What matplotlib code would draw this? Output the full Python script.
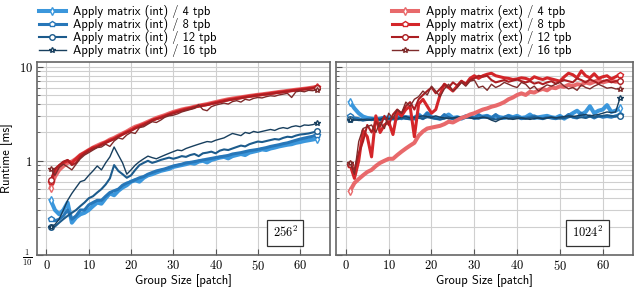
import matplotlib
matplotlib.use("Agg")
import matplotlib.pyplot as plt
from matplotlib.ticker import FixedLocator, LogLocator, NullFormatter

plt.rcParams["mathtext.fontset"] = "cm"
plt.rcParams["font.family"] = ["cmss10", "DejaVu Sans"]
plt.rcParams["axes.unicode_minus"] = False

# ── Données ───────────────────────────────────────────────────────────────────

group_size = list(range(1, 65))
tpb = [4, 8, 12, 16]

# 256^2, variante (int)
small_int_4 = [0.38, 0.30, 0.27, 0.30, 0.36, 0.22, 0.25, 0.27, 0.28, 0.30,
               0.33, 0.36, 0.35, 0.40, 0.45, 0.43, 0.48, 0.52, 0.55, 0.60,
               0.62, 0.60, 0.66, 0.70, 0.72, 0.75, 0.78, 0.80, 0.82, 0.86,
               0.88, 0.90, 0.92, 0.95, 0.93, 0.98, 1.00, 0.96, 1.02, 1.05,
               1.08, 1.10, 1.06, 1.12, 1.15, 1.18, 1.15, 1.22, 1.25, 1.28,
               1.32, 1.30, 1.35, 1.38, 1.42, 1.45, 1.48, 1.50, 1.55, 1.58,
               1.62, 1.65, 1.68, 1.72]
small_int_8 = [0.24, 0.23, 0.24, 0.26, 0.30, 0.24, 0.26, 0.30, 0.30, 0.34,
               0.36, 0.38, 0.38, 0.42, 0.46, 0.48, 0.50, 0.55, 0.58, 0.60,
               0.63, 0.66, 0.68, 0.72, 0.75, 0.78, 0.80, 0.82, 0.85, 0.88,
               0.90, 0.92, 0.95, 0.96, 0.98, 1.00, 1.02, 1.04, 1.06, 1.08,
               1.10, 1.12, 1.14, 1.18, 1.20, 1.22, 1.25, 1.28, 1.30, 1.32,
               1.35, 1.38, 1.42, 1.45, 1.48, 1.52, 1.55, 1.60, 1.65, 1.70,
               1.74, 1.78, 1.82, 1.90]
small_int_12 = [0.20, 0.20, 0.22, 0.24, 0.26, 0.28, 0.30, 0.33, 0.36, 0.40,
                0.42, 0.46, 0.50, 0.56, 0.65, 0.90, 0.78, 0.72, 0.66, 0.70,
                0.80, 0.90, 0.95, 1.00, 0.95, 0.98, 1.02, 1.05, 1.08, 1.05,
                1.08, 1.12, 1.10, 1.15, 1.18, 1.12, 1.20, 1.22, 1.25, 1.20,
                1.28, 1.32, 1.30, 1.35, 1.40, 1.45, 1.42, 1.50, 1.55, 1.60,
                1.58, 1.62, 1.66, 1.70, 1.68, 1.75, 1.80, 1.78, 1.85, 1.90,
                1.92, 1.95, 2.00, 2.05]
small_int_16 = [0.20, 0.21, 0.24, 0.30, 0.38, 0.45, 0.52, 0.60, 0.62, 0.70,
                0.78, 0.88, 0.80, 0.95, 1.10, 1.40, 1.15, 0.95, 0.72, 0.80,
                0.90, 0.98, 1.05, 1.12, 1.08, 1.05, 1.10, 1.15, 1.20, 1.25,
                1.30, 1.28, 1.35, 1.40, 1.45, 1.50, 1.55, 1.60, 1.58, 1.65,
                1.70, 1.75, 1.85, 1.95, 1.90, 1.85, 2.00, 1.95, 2.05, 2.00,
                2.05, 2.10, 2.15, 2.10, 2.20, 2.25, 2.20, 2.30, 2.35, 2.30,
                2.40, 2.38, 2.42, 2.50]

# 256^2, variante (ext)
small_ext_4 = [0.52, 0.68, 0.80, 0.88, 0.95, 0.98, 1.05, 1.15, 1.22, 1.30,
               1.38, 1.45, 1.52, 1.58, 1.68, 1.75, 1.85, 1.95, 2.05, 2.18,
               2.30, 2.38, 2.48, 2.60, 2.72, 2.85, 2.95, 3.05, 3.18, 3.30,
               3.40, 3.50, 3.58, 3.65, 3.75, 3.85, 3.92, 4.00, 4.10, 4.20,
               4.30, 4.40, 4.50, 4.58, 4.65, 4.72, 4.80, 4.88, 4.95, 5.02,
               5.08, 5.15, 5.22, 5.30, 5.38, 5.45, 5.52, 5.60, 5.68, 5.75,
               5.82, 5.90, 6.00, 6.10]
small_ext_8 = [0.60, 0.78, 0.88, 0.95, 1.00, 0.95, 1.05, 1.15, 1.22, 1.30,
               1.38, 1.42, 1.50, 1.58, 1.65, 1.72, 1.82, 1.92, 2.02, 2.12,
               2.25, 2.35, 2.45, 2.55, 2.70, 2.80, 2.90, 3.00, 3.12, 3.25,
               3.35, 3.45, 3.55, 3.62, 3.72, 3.82, 3.90, 3.95, 4.05, 4.15,
               4.25, 4.35, 4.45, 4.52, 4.60, 4.70, 4.78, 4.85, 4.92, 5.00,
               5.05, 5.12, 5.20, 5.28, 5.35, 5.42, 5.50, 5.58, 5.65, 5.72,
               5.80, 5.88, 5.95, 6.05]
small_ext_12 = [0.62, 0.82, 0.90, 0.98, 1.02, 0.90, 0.95, 1.10, 1.20, 1.28,
                1.35, 1.40, 1.48, 1.55, 1.62, 1.70, 1.80, 1.90, 2.00, 2.08,
                2.20, 2.30, 2.40, 2.55, 2.68, 2.78, 2.85, 2.98, 3.10, 3.20,
                3.30, 3.40, 3.50, 3.60, 3.70, 3.78, 3.85, 3.92, 4.02, 4.10,
                4.20, 4.30, 4.40, 4.48, 4.55, 4.62, 4.72, 4.80, 4.88, 4.95,
                5.02, 5.08, 5.15, 5.22, 5.30, 5.38, 5.45, 5.52, 5.60, 5.68,
                5.75, 5.82, 5.90, 5.95]
small_ext_16 = [0.82, 0.70, 0.85, 0.92, 0.86, 0.80, 0.92, 1.05, 1.15, 1.22,
                1.30, 1.38, 1.40, 1.50, 1.42, 1.62, 1.75, 1.70, 1.88, 2.00,
                1.95, 2.25, 2.30, 2.45, 2.60, 2.55, 2.70, 2.90, 3.00, 3.05,
                3.15, 3.30, 3.40, 3.50, 3.60, 3.95, 3.50, 3.40, 3.75, 3.90,
                4.00, 4.10, 4.00, 4.25, 4.35, 4.20, 4.50, 4.40, 4.60, 4.70,
                4.65, 4.80, 4.90, 4.85, 5.00, 5.10, 5.20, 4.70, 5.40, 5.50,
                5.40, 5.60, 5.55, 5.70]

# 1024^2, variante (int)
large_int_4 = [4.2, 3.6, 3.2, 2.95, 2.85, 2.8, 2.75, 2.8, 2.85, 2.9,
               2.8, 2.85, 3.0, 2.85, 2.9, 2.8, 3.1, 2.85, 3.2, 2.9,
               2.85, 2.8, 2.9, 3.1, 2.85, 2.9, 2.8, 2.95, 3.0, 2.85,
               2.9, 2.95, 3.0, 2.85, 3.0, 2.9, 2.85, 3.0, 2.9, 3.0,
               2.85, 2.9, 3.1, 2.85, 2.9, 2.95, 3.0, 2.9, 2.85, 3.0,
               2.8, 3.0, 3.2, 3.4, 3.1, 3.3, 3.8, 3.2, 3.4, 3.5,
               3.9, 3.3, 3.4, 3.6]
large_int_8 = [3.0, 2.85, 2.8, 2.7, 2.75, 2.8, 2.75, 2.8, 2.9, 2.8,
               2.85, 2.9, 2.8, 2.95, 2.85, 2.9, 3.05, 2.8, 3.2, 2.9,
               2.85, 2.8, 3.1, 2.85, 2.8, 2.9, 2.85, 3.0, 2.9, 2.85,
               3.1, 2.9, 3.0, 2.85, 3.1, 2.8, 2.9, 3.0, 2.85, 2.9,
               2.8, 2.85, 2.9, 3.0, 2.85, 2.8, 2.9, 2.85, 2.8, 2.9,
               2.85, 3.1, 2.9, 2.85, 3.2, 2.9, 3.0, 2.85, 3.0, 2.9,
               2.95, 2.9, 3.0, 3.05]
large_int_12 = [2.75, 2.75, 2.7, 2.7, 2.75, 2.7, 2.75, 2.7, 2.8, 2.75,
                2.8, 2.75, 2.85, 2.8, 2.75, 2.8, 2.85, 2.8, 2.9, 2.85,
                2.8, 2.75, 2.8, 2.9, 2.8, 2.85, 2.8, 2.85, 2.9, 2.85,
                2.8, 2.9, 2.85, 2.8, 2.75, 2.8, 2.85, 2.8, 2.85, 2.9,
                2.85, 2.8, 2.85, 2.9, 2.85, 2.8, 2.85, 2.9, 2.85, 2.8,
                2.85, 2.9, 2.95, 2.85, 2.9, 2.85, 2.95, 2.9, 2.95, 3.0,
                3.05, 3.0, 2.95, 3.0]
large_int_16 = [2.7, 2.7, 2.72, 2.75, 2.7, 2.75, 2.8, 2.75, 2.9, 2.8,
                2.85, 2.8, 2.9, 2.95, 2.85, 2.9, 2.95, 3.0, 2.95, 2.9,
                3.0, 2.9, 2.85, 2.8, 2.85, 2.9, 2.95, 2.9, 2.85, 2.8,
                2.85, 2.9, 2.85, 2.7, 2.6, 2.75, 2.85, 2.8, 2.75, 2.8,
                2.85, 2.8, 2.75, 2.8, 2.85, 2.8, 2.85, 2.9, 2.85, 2.9,
                2.95, 3.0, 2.95, 3.0, 3.05, 3.1, 3.0, 3.05, 3.1, 3.2,
                3.3, 3.25, 3.3, 4.6]

# 1024^2, variante (ext)
large_ext_4 = [0.48, 0.58, 0.64, 0.70, 0.76, 0.80, 0.88, 0.95, 1.0, 1.05,
               1.05, 1.15, 1.25, 1.35, 1.45, 1.55, 1.85, 2.05, 2.2, 2.25,
               2.3, 2.35, 2.45, 2.6, 2.55, 2.7, 2.85, 2.95, 3.1, 3.2,
               3.35, 3.5, 3.6, 3.75, 3.85, 4.0, 4.2, 4.5, 4.7, 5.0,
               5.2, 5.0, 5.4, 5.3, 5.6, 5.8, 5.6, 6.0, 5.9, 6.2,
               6.1, 6.4, 6.2, 6.5, 6.4, 6.8, 6.6, 6.9, 7.2, 6.8,
               7.0, 7.1, 6.9, 7.0]
large_ext_8 = [0.9, 0.65, 1.0, 2.1, 1.8, 1.1, 3.0, 2.0, 2.4, 2.6,
               1.9, 3.3, 3.0, 3.5, 3.8, 1.8, 4.0, 4.5, 3.8, 3.2,
               3.5, 5.0, 6.5, 6.0, 5.5, 6.2, 7.0, 6.5, 7.5, 8.0,
               7.5, 8.0, 8.3, 8.5, 8.0, 7.8, 7.6, 7.5, 7.3, 7.4,
               7.6, 7.5, 7.2, 7.8, 7.5, 7.3, 7.6, 7.4, 7.2, 7.0,
               7.8, 8.5, 8.2, 7.6, 9.0, 8.0, 7.6, 8.4, 7.5, 7.8,
               8.0, 7.4, 7.8, 8.2]
large_ext_12 = [0.92, 0.8, 1.2, 1.6, 2.4, 2.0, 2.6, 2.3, 3.0, 2.4,
                3.1, 3.5, 3.2, 3.8, 4.2, 3.5, 4.5, 5.0, 5.5, 6.0,
                5.2, 5.8, 6.5, 6.0, 6.8, 6.3, 7.0, 6.6, 7.2, 7.5,
                8.0, 7.8, 8.0, 7.2, 6.8, 7.0, 7.2, 6.9, 7.1, 7.3,
                7.0, 6.8, 7.0, 6.6, 6.8, 6.5, 6.8, 7.0, 6.6, 6.9,
                7.2, 7.0, 6.8, 7.5, 7.2, 6.8, 7.3, 7.0, 6.6, 7.0,
                7.2, 6.8, 7.0, 7.0]
large_ext_16 = [0.95, 0.72, 1.6, 2.2, 2.3, 2.4, 2.0, 2.6, 2.2, 3.2,
                2.8, 3.5, 3.2, 4.2, 3.8, 4.5, 4.8, 5.5, 5.0, 6.2,
                5.5, 4.8, 5.8, 6.5, 5.5, 6.0, 6.8, 6.2, 7.0, 7.2,
                6.0, 6.2, 5.6, 6.5, 6.0, 6.3, 6.8, 6.5, 6.2, 6.0,
                6.8, 6.5, 5.8, 6.2, 5.5, 6.0, 6.4, 6.2, 6.5, 6.8,
                6.2, 5.8, 6.0, 5.6, 6.4, 6.0, 5.8, 6.2, 6.5, 6.2,
                5.9, 6.0, 5.8, 5.8]

panels = [
    ("256", [small_int_4, small_int_8, small_int_12, small_int_16],
            [small_ext_4, small_ext_8, small_ext_12, small_ext_16]),
    ("1024", [large_int_4, large_int_8, large_int_12, large_int_16],
             [large_ext_4, large_ext_8, large_ext_12, large_ext_16]),
]

# ── Style ─────────────────────────────────────────────────────────────────────

int_colors = ["#3b97dc", "#2777b9", "#1c5b8c", "#183f5e"]
ext_colors = ["#e8696b", "#d4262a", "#ab1e22", "#7e2b2b"]
widths     = [2.9, 2.2, 1.5, 1.0]
markers    = ["d", "p", "o", "*"]

fig = plt.figure(figsize=(6.34, 2.91), dpi=100)
axes = [
    fig.add_axes([0.058, 0.124, 0.462, 0.663]),
    fig.add_axes([0.530, 0.124, 0.468, 0.663]),
]

for i, (ax, (size, int_series, ext_series)) in enumerate(zip(axes, panels)):
    for kind, series, colors in [("int", int_series, int_colors),
                                 ("ext", ext_series, ext_colors)]:
        for vals, n, c, lw, m in zip(series, tpb, colors, widths, markers):
            ax.plot(group_size, vals, color=c, lw=lw, marker=m, markersize=4,
                    markerfacecolor="white", markeredgecolor=c, markeredgewidth=1,
                    markevery=[0, len(vals) - 1],
                    label=f"Apply matrix ({kind}) / {n} tpb")

    ax.set_yscale("log")
    ax.set_ylim(0.1, 11.2)
    ax.set_xlim(-2.3, 67)
    ax.xaxis.set_major_locator(FixedLocator([0, 10, 20, 30, 40, 50, 60]))
    ax.set_xticklabels([f"${v}$" for v in [0, 10, 20, 30, 40, 50, 60]])
    ax.yaxis.set_major_locator(FixedLocator([0.1, 1, 10]))
    ax.yaxis.set_minor_locator(LogLocator(base=10, subs=range(2, 10)))
    ax.yaxis.set_minor_formatter(NullFormatter())
    if i == 0:
        ax.set_yticklabels([r"$\frac{1}{10}$", r"$1$", r"$10$"])
        ax.set_ylabel("Runtime [ms]", fontsize=9)
        ax.yaxis.set_label_coords(-0.08, 0.5)
    else:
        ax.set_yticklabels([])
    ax.tick_params(which="both", direction="in", labelsize=9, color="#555555")
    ax.tick_params(which="major", length=4, pad=3)
    ax.tick_params(which="minor", length=2.5)
    ax.grid(True, which="major", color="#cfcfcf", lw=0.8)
    ax.grid(True, which="minor", axis="y", color="#cfcfcf", lw=0.8)
    ax.set_axisbelow(True)
    for sp in ax.spines.values():
        sp.set_color("#666666")
        sp.set_linewidth(1.2)
    ax.set_xlabel("Group Size [patch]", fontsize=9, labelpad=1)

    ax.text(0.848, 0.114, f"${size}^2$", transform=ax.transAxes, fontsize=9,
            ha="center", va="center",
            bbox=dict(boxstyle="square,pad=0.45", fc="white", ec="#333333", lw=0.9))

    handles, labels = ax.get_legend_handles_labels()
    keep = handles[:4] if i == 0 else handles[4:]
    keep_l = labels[:4] if i == 0 else labels[4:]
    anchor = (0.058, 0.99) if i == 0 else (0.614, 0.99)
    fig.legend(keep, keep_l, loc="upper left", bbox_to_anchor=anchor,
               frameon=False, fontsize=9, labelspacing=0.0,
               handlelength=2.1, handletextpad=0.6, borderaxespad=0.1,
               borderpad=0.1)

fig.savefig("out.png", dpi=100)
